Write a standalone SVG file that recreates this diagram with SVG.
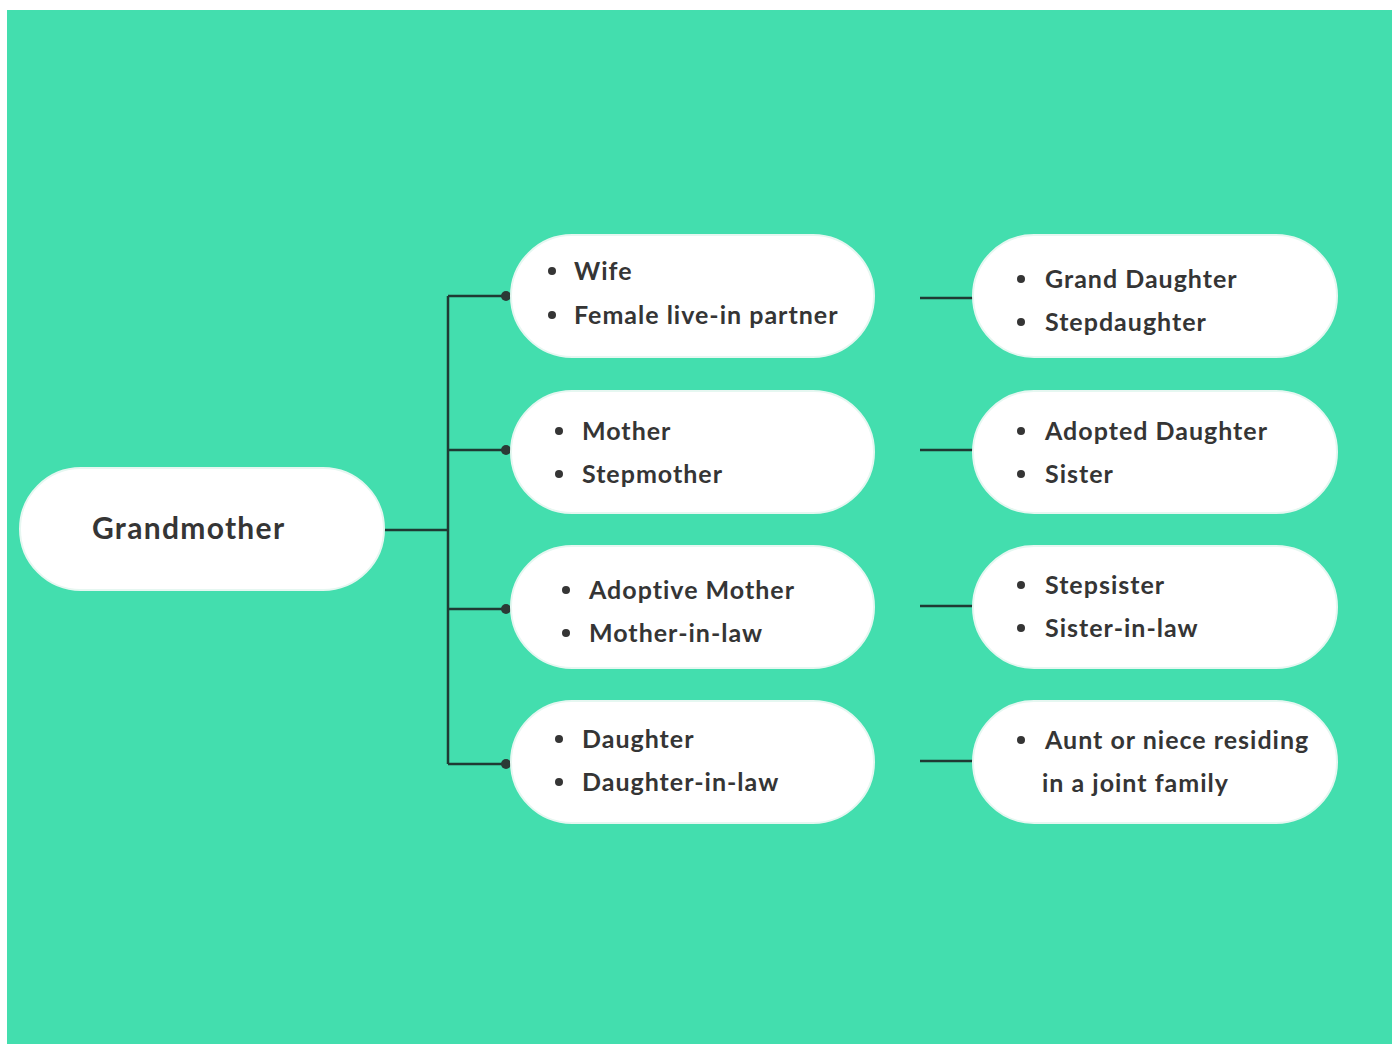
<svg xmlns="http://www.w3.org/2000/svg" width="1392" height="1044" viewBox="0 0 1392 1044">
<style>
.node{fill:#ffffff;stroke:#e6f7f1;stroke-width:2}
.t{font-family:Lato,"Open Sans","Liberation Sans",sans-serif;font-weight:bold;font-size:25px;letter-spacing:1px;fill:#353535}
.title{font-size:30px;letter-spacing:1.3px}
.b{fill:#353535}
.ln{stroke:#1f3a33;stroke-width:2.5;fill:none}
.dot{fill:#2b3a36}
</style>
<rect x="0" y="0" width="1392" height="1044" fill="#ffffff"/>
<rect x="7" y="10" width="1385" height="1034" fill="#43deae"/>
<g id="connectors">
<path class="ln" d="M384 530H448M448 296V764M448 296H506M448 450H506M448 609H506M448 764H506"/>
<circle class="dot" cx="506" cy="296" r="5"/>
<circle class="dot" cx="506" cy="450" r="5"/>
<circle class="dot" cx="506" cy="609" r="5"/>
<circle class="dot" cx="506" cy="764" r="5"/>
<path class="ln" d="M920 298H973M920 450H973M920 606H973M920 761H973"/>
</g>
<g id="grandmother">
<rect class="node" x="20" y="468" width="364" height="122" rx="61"/>
<text class="t title" x="92" y="539">Grandmother</text>
</g>
<g id="n-wife">
<rect class="node" x="511" y="235" width="363" height="122" rx="61"/>
<circle class="b" cx="552" cy="271" r="4"/><text class="t" x="574" y="280">Wife</text>
<circle class="b" cx="552" cy="315" r="4"/><text class="t" x="574" y="324">Female live-in partner</text>
</g>
<g id="n-mother">
<rect class="node" x="511" y="391" width="363" height="122" rx="61"/>
<circle class="b" cx="559" cy="431" r="4"/><text class="t" x="582" y="440">Mother</text>
<circle class="b" cx="559" cy="474" r="4"/><text class="t" x="582" y="483">Stepmother</text>
</g>
<g id="n-adoptive">
<rect class="node" x="511" y="546" width="363" height="122" rx="61"/>
<circle class="b" cx="566" cy="590" r="4"/><text class="t" x="589" y="599">Adoptive Mother</text>
<circle class="b" cx="566" cy="633" r="4"/><text class="t" x="589" y="642">Mother-in-law</text>
</g>
<g id="n-daughter">
<rect class="node" x="511" y="701" width="363" height="122" rx="61"/>
<circle class="b" cx="559" cy="739" r="4"/><text class="t" x="582" y="748">Daughter</text>
<circle class="b" cx="559" cy="782" r="4"/><text class="t" x="582" y="791">Daughter-in-law</text>
</g>
<g id="n-grand">
<rect class="node" x="973" y="235" width="364" height="122" rx="61"/>
<circle class="b" cx="1021" cy="279" r="4"/><text class="t" x="1045" y="288">Grand Daughter</text>
<circle class="b" cx="1021" cy="322" r="4"/><text class="t" x="1045" y="331">Stepdaughter</text>
</g>
<g id="n-adopted">
<rect class="node" x="973" y="391" width="364" height="122" rx="61"/>
<circle class="b" cx="1021" cy="431" r="4"/><text class="t" x="1045" y="440">Adopted Daughter</text>
<circle class="b" cx="1021" cy="474" r="4"/><text class="t" x="1045" y="483">Sister</text>
</g>
<g id="n-stepsister">
<rect class="node" x="973" y="546" width="364" height="122" rx="61"/>
<circle class="b" cx="1021" cy="585" r="4"/><text class="t" x="1045" y="594">Stepsister</text>
<circle class="b" cx="1021" cy="628" r="4"/><text class="t" x="1045" y="637">Sister-in-law</text>
</g>
<g id="n-aunt">
<rect class="node" x="973" y="701" width="364" height="122" rx="61"/>
<circle class="b" cx="1021" cy="740" r="4"/><text class="t" x="1045" y="749">Aunt or niece residing</text>
<text class="t" x="1042" y="792">in a joint family</text>
</g>
</svg>
